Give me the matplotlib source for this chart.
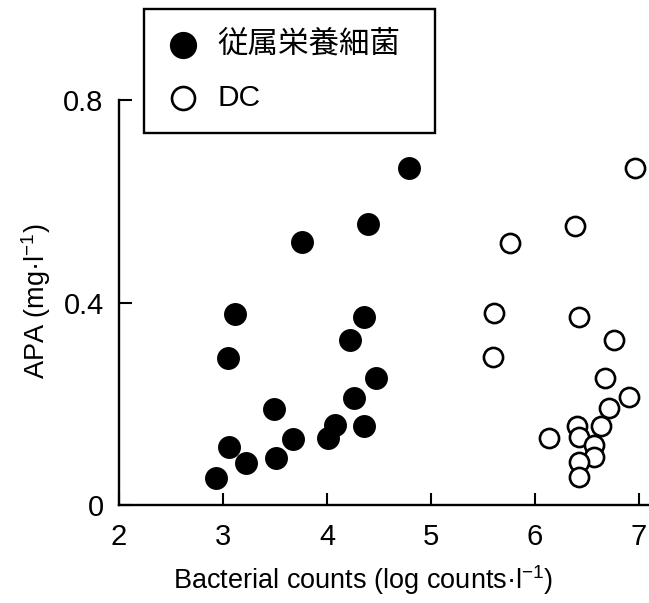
import matplotlib
matplotlib.use("Agg")
import matplotlib.pyplot as plt

plt.rcParams['font.family'] = ['Liberation Sans', 'Noto Sans CJK JP', 'DejaVu Sans']
plt.rcParams['mathtext.fontset'] = 'custom'
plt.rcParams['mathtext.rm'] = 'Liberation Sans'
plt.rcParams['mathtext.it'] = 'Liberation Sans'

# 従属栄養細菌 (filled)
het_x = [4.79, 4.39, 3.76, 3.12, 4.36, 3.05, 4.22, 4.47, 4.26, 3.49,
         4.08, 4.36, 3.67, 4.01, 3.06, 3.51, 3.22, 2.93]
het_y = [0.665, 0.555, 0.519, 0.378, 0.372, 0.291, 0.325, 0.250, 0.212, 0.190,
         0.158, 0.156, 0.131, 0.133, 0.115, 0.093, 0.083, 0.053]

# DC (open)
dc_x = [6.96, 6.38, 5.76, 5.61, 6.42, 6.76, 5.60, 6.67, 6.90, 6.71,
        6.63, 6.40, 6.13, 6.42, 6.57, 6.57, 6.42, 6.42]
dc_y = [0.665, 0.552, 0.517, 0.380, 0.372, 0.325, 0.293, 0.251, 0.214, 0.192,
        0.156, 0.156, 0.133, 0.135, 0.119, 0.095, 0.085, 0.055]

fig = plt.figure(figsize=(6.49, 6.03), dpi=100)
ax = fig.add_axes([119 / 649, 98 / 603, 530 / 649, 405 / 603])

ax.scatter(het_x, het_y, s=240, facecolor='black', edgecolor='black',
           label='従属栄養細菌', zorder=3)
ax.scatter(dc_x, dc_y, s=190, facecolor='white', edgecolor='black',
           linewidths=1.9, label='DC', zorder=3)

ax.set_xlim(2, 2 + 530 / 104)
ax.set_ylim(0, 0.8)
ax.set_xticks([2, 3, 4, 5, 6, 7])
ax.set_yticks([0, 0.4, 0.8])
ax.set_yticklabels(['0', '0.4', '0.8'])

for s in ['top', 'right']:
    ax.spines[s].set_visible(False)
for s in ['left', 'bottom']:
    ax.spines[s].set_linewidth(1.7)

ax.tick_params(direction='in', length=9, width=1.5, labelsize=21, pad=13)
ax.tick_params(axis='y', pad=11)

fig.text(0.56, 0.038, 'Bacterial counts (log counts·l$^{-1}$)',
         ha='center', va='center', fontsize=19.5)
fig.text(0.055, 0.5, 'APA (mg·l$^{-1}$)', rotation=90,
         ha='center', va='center', fontsize=19.5)

leg = ax.legend(loc='upper left',
                bbox_to_anchor=(144 / 649, 1 - 126 / 603, 291 / 649, 117 / 603),
                bbox_transform=fig.transFigure, mode='expand',
                fontsize=21.5, frameon=True, fancybox=False,
                borderpad=0.7, handletextpad=0.55, labelspacing=0.8,
                borderaxespad=0, handlelength=1.2, markerscale=1.2)
leg.get_texts()[0].set_fontsize(22)
leg.get_frame().set_edgecolor('black')
leg.get_frame().set_linewidth(1.7)
leg.get_frame().set_alpha(1)

fig.savefig('out.png', dpi=100)
